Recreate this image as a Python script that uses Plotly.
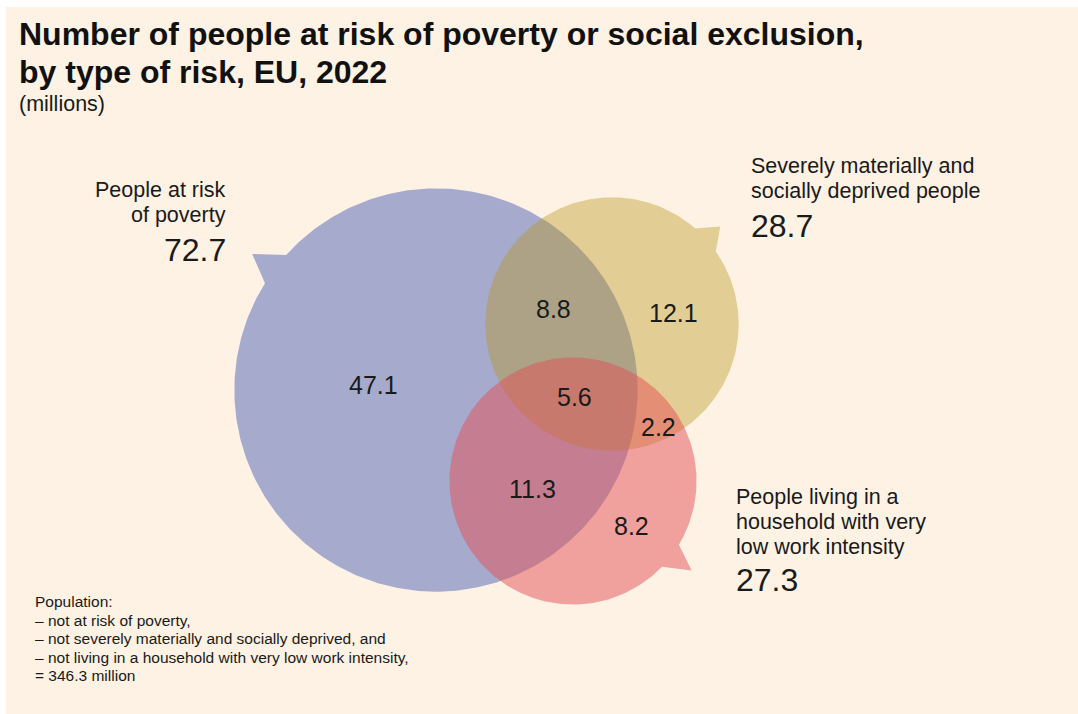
import numpy as np
import plotly.graph_objects as go

# ---------------- data ----------------
set_names = ["People at risk of poverty",
             "Severely materially and socially deprived people",
             "People living in a household with very low work intensity"]
set_label_lines = [["People at risk", "of poverty"],
                   ["Severely materially and", "socially deprived people"],
                   ["People living in a", "household with very", "low work intensity"]]
set_totals = [72.7, 28.7, 27.3]

region_names = ["Poverty only", "Poverty & deprivation", "Deprivation only",
                "All three", "Deprivation & low work intensity",
                "Poverty & low work intensity", "Low work intensity only"]
region_values = [47.1, 8.8, 12.1, 5.6, 2.2, 11.3, 8.2]

title_lines = ["Number of people at risk of poverty or social exclusion,",
               "by type of risk, EU, 2022"]
subtitle = "(millions)"
footnote_lines = ["Population:",
                  "– not at risk of poverty,",
                  "– not severely materially and socially deprived, and",
                  "– not living in a household with very low work intensity,",
                  "= 346.3 million"]

# ---------------- layout constants (pixels) ----------------
W, H = 1078, 714
FONT = "Liberation Sans, Arial, Helvetica, sans-serif"
K = 23.65  # radius scale: r = K * sqrt(total) (area proportional)
centers = [(436, 390), (612, 324), (573, 481)]
tails = [(-148, -138, -143.5, 27), (-49, -35, -42, 19), (31, 44, 37, 25)]
fills = ["rgb(166,170,205)", "rgba(185,150,28,0.40)", "rgba(228,80,85,0.50)"]

label_pos = [dict(x=228, ys=[190, 215], num_y=250, anchor="right"),
             dict(x=749, ys=[166, 191], num_y=226, anchor="left"),
             dict(x=734, ys=[497, 522, 547], num_y=580, anchor="left")]
region_pos = [(373, 385), (553, 309), (673, 313), (574, 397),
              (658, 427), (532, 489), (631, 526)]

fig = go.Figure()

for i, total in enumerate(set_totals):
    cx, cy = centers[i]
    r = K * np.sqrt(total)
    a1, a2, at, ext = tails[i]
    start, end = max(a1, a2), min(a1, a2) + 360
    th = np.radians(np.linspace(start, end, 360))
    xs = list(cx + r * np.cos(th))
    ys = list(cy + r * np.sin(th))
    tip = np.radians(at)
    xs.append(cx + (r + ext) * np.cos(tip))
    ys.append(cy + (r + ext) * np.sin(tip))
    xs.append(xs[0]); ys.append(ys[0])
    fig.add_trace(go.Scatter(x=xs, y=ys, mode="lines", fill="toself",
                             fillcolor=fills[i], line=dict(width=0),
                             name=set_names[i], hoverinfo="name",
                             showlegend=False))

ann = []
def add_text(x, y, text, size, anchor="left", bold=False, color="#1a1a1a"):
    ann.append(dict(x=x, y=y, xref="x", yref="y", text=("<b>%s</b>" % text) if bold else text,
                    showarrow=False, xanchor=anchor, yanchor="middle",
                    font=dict(family=FONT, size=size, color=color)))

add_text(17, 34, title_lines[0], 32, bold=True, color="#111111")
add_text(17, 72, title_lines[1], 32, bold=True, color="#111111")
add_text(17, 104, subtitle, 21.5)

for i, lines in enumerate(set_label_lines):
    p = label_pos[i]
    for ln, yy in zip(lines, p["ys"]):
        add_text(p["x"], yy, ln, 21.5, anchor=p["anchor"])
    add_text(p["x"], p["num_y"], "%.1f" % set_totals[i], 32, anchor=p["anchor"])

for v, (x, y) in zip(region_values, region_pos):
    add_text(x, y, "%.1f" % v, 25, anchor="center")

for ln, yy in zip(footnote_lines, [601, 620, 638, 657, 675]):
    add_text(33, yy, ln, 15.5)

fig.update_layout(
    width=W, height=H, margin=dict(l=0, r=0, t=0, b=0),
    paper_bgcolor="white", plot_bgcolor="rgba(0,0,0,0)",
    xaxis=dict(range=[0, W], visible=False, fixedrange=True),
    yaxis=dict(range=[H, 0], visible=False, fixedrange=True),
    annotations=ann,
    shapes=[dict(type="rect", xref="x", yref="y", x0=6, y0=7, x1=W, y1=H,
                 fillcolor="#FDF2E4", line=dict(width=0), layer="below")],
)

fig.write_html("out.html")
